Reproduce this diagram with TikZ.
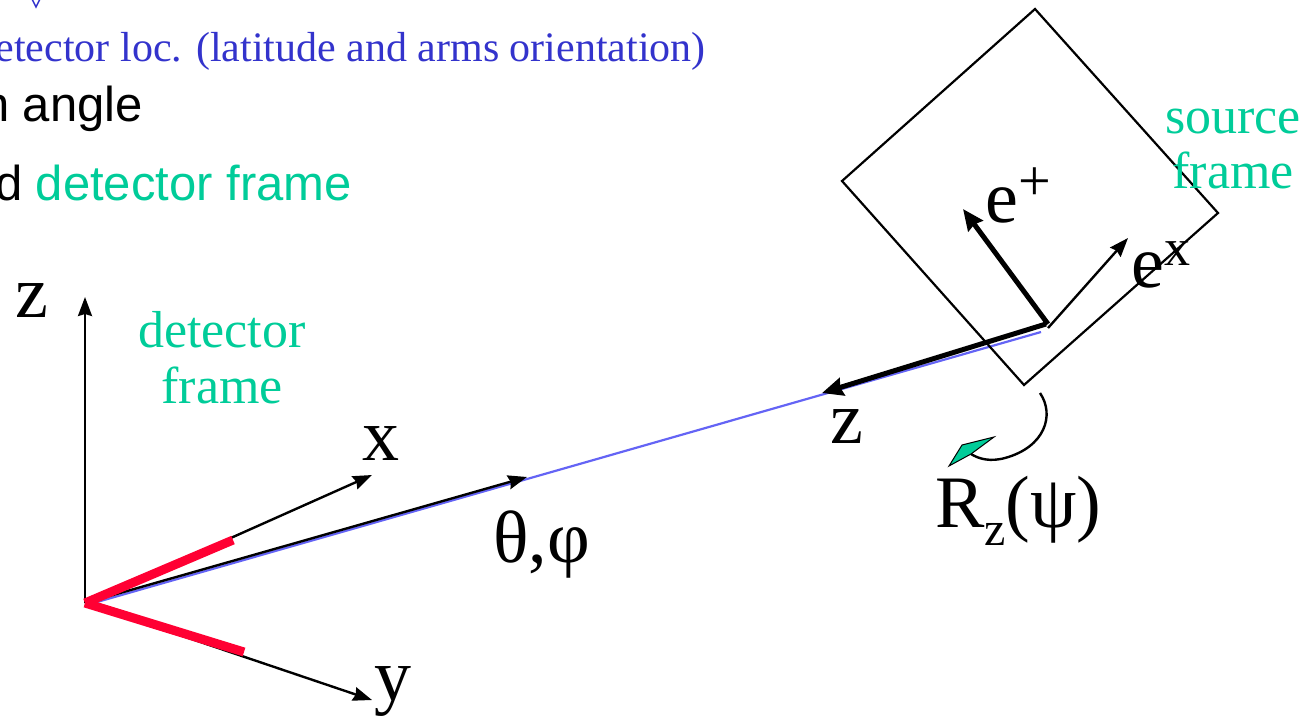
\documentclass[tikz,border=0pt]{standalone}
\usepackage{fontspec}
\setmainfont{Liberation Serif}
\newfontfamily\arialf{Liberation Sans}
\usetikzlibrary{arrows.meta}
\definecolor{tgreen}{RGB}{0,204,153}
\definecolor{tblue}{RGB}{51,51,204}
\definecolor{lblue}{RGB}{100,100,245}
\definecolor{tred}{RGB}{255,0,51}
\begin{document}
\begin{tikzpicture}[x=1pt,y=-1pt,
  axis/.style={line width=2.4pt,-{Stealth[length=19pt,width=14pt,inset=2pt]}},
  thickarr/.style={line width=5pt,-{Stealth[length=21pt,width=18pt,inset=2pt]}},
  redseg/.style={tred,line width=9pt},
  lab/.style={font=\fontsize{74}{80}\selectfont,inner sep=0pt},
  glab/.style={font=\fontsize{52}{56}\selectfont,text=tgreen,inner sep=0pt,anchor=base},
  sanst/.style={font=\arialf\fontsize{49}{55}\selectfont,inner sep=0pt,anchor=base east},
  frameline/.style={line width=2.2pt,line join=miter}
]
\useasboundingbox (0,0) rectangle (1311,721);

% header text fragments
\draw[tblue,line width=1.5pt] (32,-1) -- (36,7) -- (40,-1);
\node[font=\fontsize{42}{48}\selectfont,text=tblue,inner sep=0pt,anchor=base east] (t1) at (706,61) {detector loc. (latitude and arms orientation)};
\node[sanst] (t2) at (143,121) {in angle};
\node[sanst] (t3) at (352,200) {and {\color{tgreen}detector frame}};

% coordinates
\coordinate (O) at (85,603);
\coordinate (Ob) at (90,604);
\coordinate (zt) at (85,297);
\coordinate (xt) at (372,475);
\coordinate (yt) at (372,700);
\coordinate (xr) at (233,540);
\coordinate (yr) at (244,652);
\coordinate (dir) at (527,477);
\coordinate (S) at (1041,332);
\coordinate (Sz) at (1046,324);
\coordinate (zs) at (822,393);
\coordinate (ep) at (963,209);
\coordinate (ex) at (1128,238);
\coordinate (q1) at (1035,9);
\coordinate (q2) at (1218,213);
\coordinate (q3) at (1024,385);
\coordinate (q4) at (842,181);

% source line
\draw[lblue,line width=2.2pt] (Ob) -- (S);
% axes
\draw[axis] (O) -- (zt);
\draw[axis] (O) -- (xt);
\draw[axis] (O) -- (yt);
\draw[axis] (O) -- (dir);
% red arms
\draw[redseg] (O) -- (xr);
\draw[redseg] (O) -- (yr);

% source frame square
\draw[frameline] (q1) -- (q2) -- (q3) -- (q4) -- cycle;
\draw[thickarr] (Sz) -- (zs);
\draw[thickarr] (1048,324) -- (ep);
\draw[axis] (1048,328) -- (ex);

% rotation arrow
\coordinate (r0) at (1040,393);
\coordinate (r1) at (971,454);
\draw[line width=2.4pt] (r0) .. controls (1055,415) and (1045,447) .. (1005,458) .. controls (990,462) and (979,459) .. (r1);
\draw[fill=tgreen,line width=1pt,line join=miter] (949,466) -- (962,445) -- (994,437) -- (r1) -- cycle;

% labels
\node[lab,anchor=base] (lz) at (32,317) {z};
\node[lab,anchor=base] (lx) at (381,460) {x};
\node[lab,anchor=base] (ly) at (393,700) {y};
\node[lab,anchor=base] (lz2) at (847,443) {z};
\node[lab,anchor=base west] (ltp) at (493,562) {θ,φ};
\node[lab,anchor=base west] (lep) at (985,222) {e\raisebox{22pt}{\fontsize{58}{60}\selectfont +}};
\node[lab,anchor=base west] (lex) at (1131,287) {e\raisebox{22pt}{\fontsize{52}{54}\selectfont x}};
\node[lab,anchor=base west] (lR) at (935,527) {R\raisebox{-18pt}{\fontsize{48}{50}\selectfont z}(ψ)};

\node[glab] (df1) at (222,347) {detector};
\node[glab] (df2) at (222,403) {frame};
\node[glab] (sf1) at (1233,133) {source};
\node[glab] (sf2) at (1233,188) {frame};
\end{tikzpicture}
\end{document}
